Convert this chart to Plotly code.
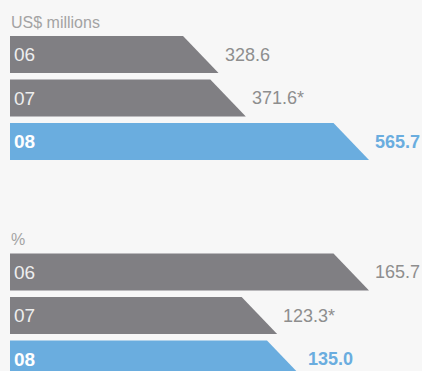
import plotly.graph_objects as go

# ---- data ----
years = ["06", "07", "08"]
revenue = [328.6, 371.6, 565.7]
revenue_labels = ["328.6", "371.6*", "565.7"]
ratio = [165.7, 123.3, 135.0]
ratio_labels = ["165.7", "123.3*", "135.0"]
units = ["US$ millions", "%"]

# ---- style ----
BG = "#f7f7f7"
GREY = "#807f83"
BLUE = "#6aaddf"
TXT = "#8e8e8e"
UNIT_TXT = "#a3a3a3"
FONT = "Liberation Sans"

W, H = 422, 371
ROW_PX = 43.5          # spacing between bar centres in px
HALF = 0.425           # half bar height in row units
LEFT_PX, MAX_PX, SLANT_PX = 10, 359, 35.5

panels = [
    dict(vals=revenue, labels=revenue_labels, unit=units[0], xa="x", row0=0),
    dict(vals=ratio, labels=ratio_labels, unit=units[1], xa="x2", row0=5),
]

fig = go.Figure()
annotations = []
for p in panels:
    vmax = max(p["vals"])
    slant = SLANT_PX / MAX_PX * vmax
    p["range"] = [-LEFT_PX / MAX_PX * vmax, (W - LEFT_PX) / MAX_PX * vmax]
    n = len(p["vals"])
    for i, (yr, v, lab) in enumerate(zip(years, p["vals"], p["labels"])):
        r = p["row0"] + i
        last = i == n - 1
        col = BLUE if last else GREY
        fig.add_trace(go.Scatter(
            x=[0, v - slant, v, 0, 0],
            y=[r - HALF, r - HALF, r + HALF, r + HALF, r - HALF],
            xaxis=p["xa"], yaxis="y",
            mode="lines", fill="toself", fillcolor=col,
            line=dict(width=0, color=col), hoverinfo="skip", showlegend=False,
        ))
        annotations.append(dict(
            x=0, y=r, xref=p["xa"], yref="y", text=f"<b>{yr}</b>" if last else yr,
            xanchor="left", yanchor="middle", xshift=2, showarrow=False,
            font=dict(family=FONT, size=19, color="#ffffff" if last else "#eeeeee"),
        ))
        annotations.append(dict(
            x=v, y=r, xref=p["xa"], yref="y", text=f"<b>{lab}</b>" if last else lab,
            xanchor="left", yanchor="middle", xshift=4, showarrow=False,
            font=dict(family=FONT, size=18, color=BLUE if last else TXT),
        ))
    annotations.append(dict(
        x=0, y=p["row0"] - 0.74, xref=p["xa"], yref="y", text=p["unit"],
        xanchor="left", yanchor="middle", xshift=-1, showarrow=False,
        font=dict(family=FONT, size=16, color=UNIT_TXT),
    ))

top_row = -54.5 / ROW_PX
bottom_row = top_row + H / ROW_PX

fig.update_layout(
    width=W, height=H,
    margin=dict(l=0, r=0, t=0, b=0),
    paper_bgcolor=BG, plot_bgcolor=BG,
    xaxis=dict(domain=[0, 1], range=panels[0]["range"], visible=False, fixedrange=True),
    xaxis2=dict(domain=[0, 1], range=panels[1]["range"], overlaying="x", anchor="y",
                visible=False, fixedrange=True),
    yaxis=dict(range=[bottom_row, top_row], visible=False, fixedrange=True),
    annotations=annotations,
    showlegend=False,
)

fig.write_html("out.html")
